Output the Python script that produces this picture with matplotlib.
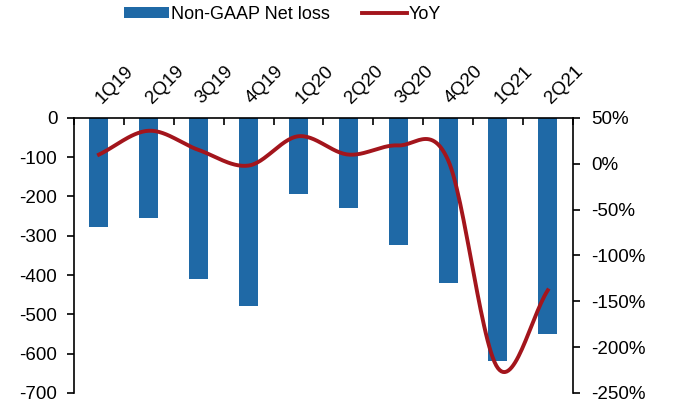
import numpy as np
import matplotlib.pyplot as plt
from matplotlib.ticker import FuncFormatter

plt.rcParams['font.family'] = ['Liberation Sans', 'DejaVu Sans']
plt.rcParams['axes.unicode_minus'] = False

quarters = ['1Q19', '2Q19', '3Q19', '4Q19', '1Q20', '2Q20', '3Q20', '4Q20', '1Q21', '2Q21']
net_loss = [-277, -254, -410, -478, -193, -230, -324, -419, -618, -550]
yoy = [10, 36, 15, -2, 30, 10, 20, 4, -223, -138]

bar_color = '#1f69a6'
line_color = '#a3151c'


def smooth(x, y, n=30):
    # Catmull-Rom spline, close to Excel's smoothed line
    x = np.asarray(x, float)
    y = np.asarray(y, float)
    px = np.concatenate([[2 * x[0] - x[1]], x, [2 * x[-1] - x[-2]]])
    py = np.concatenate([[2 * y[0] - y[1]], y, [2 * y[-1] - y[-2]]])
    xs, ys = [], []
    t = np.linspace(0, 1, n)
    for i in range(1, len(px) - 2):
        for p, out in ((px, xs), (py, ys)):
            p0, p1, p2, p3 = p[i - 1], p[i], p[i + 1], p[i + 2]
            out.extend(0.5 * (2 * p1 + (-p0 + p2) * t
                              + (2 * p0 - 5 * p1 + 4 * p2 - p3) * t ** 2
                              + (-p0 + 3 * p1 - 3 * p2 + p3) * t ** 3))
    return np.array(xs), np.array(ys)


fig = plt.figure(figsize=(6.73, 4.08), dpi=100)
ax = fig.add_axes([0.11, 0.037, 0.741, 0.674])
x = np.arange(len(quarters))

bars = ax.bar(x, net_loss, width=0.38, color=bar_color, label='Non-GAAP Net loss')
ax.set_ylim(-700, 0)
ax.set_xlim(-0.5, len(quarters) - 0.5)
ax.set_yticks(range(-700, 1, 100))
ax.tick_params(axis='y', labelsize=13.5, direction='out', length=5, width=1.2, pad=7)

ax.xaxis.set_ticks_position('top')
ax.set_xticks(x)
ax.set_xticklabels(quarters, rotation=45, ha='left', va='center', rotation_mode='anchor', fontsize=13.5)
ax.set_xticks(np.arange(-0.5, len(quarters)), minor=True)
ax.tick_params(axis='x', which='major', length=0, pad=12)
ax.tick_params(axis='x', which='minor', direction='in', length=5, width=1.2, top=True, bottom=False)
ax.spines['bottom'].set_visible(False)
ax.spines['right'].set_visible(False)
for s in ('top', 'left'):
    ax.spines[s].set_linewidth(1.2)

ax2 = ax.twinx()
sx, sy = smooth(x, yoy)
line, = ax2.plot(sx, sy, color=line_color, lw=2.8, label='YoY')
ax2.set_ylim(-250, 50)
ax2.set_yticks(range(-250, 51, 50))
ax2.yaxis.set_major_formatter(FuncFormatter(lambda v, p: f'{int(v)}%'))
ax2.tick_params(axis='y', labelsize=13.5, direction='out', length=5, width=1.2, pad=8)
for s in ('top', 'bottom', 'left'):
    ax2.spines[s].set_visible(False)
ax2.spines['right'].set_linewidth(1.2)

fig.legend([bars, line], ['Non-GAAP Net loss', 'YoY'], loc='upper center',
           bbox_to_anchor=(0.42, 1.025), ncol=2, frameon=False, fontsize=13,
           handlelength=2.5, handleheight=0.5, columnspacing=1.8, handletextpad=0.1)

fig.savefig('out.png', dpi=100, facecolor='white')
